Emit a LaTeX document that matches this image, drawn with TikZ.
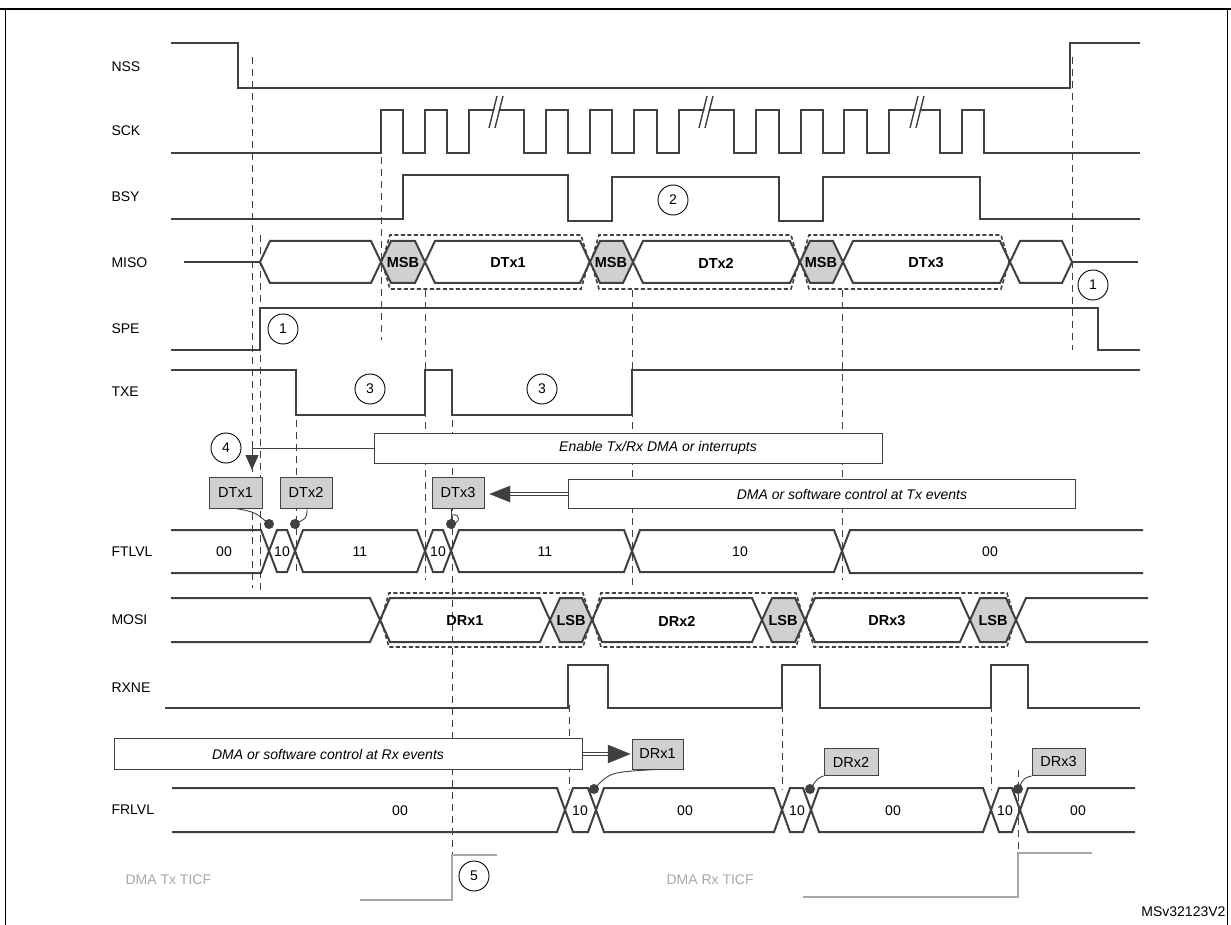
\documentclass[tikz,border=0pt]{standalone}
\usepackage{fontspec}
\setmainfont{Liberation Sans}
\usetikzlibrary{arrows.meta}
\definecolor{sigc}{HTML}{404040}
\definecolor{gfill}{HTML}{D0D0D0}
\definecolor{ticf}{HTML}{A8A8A8}
\newcommand\hexseg[6][]{\draw[sig,#1] (#2,#4) -- ({#2+#6},{#4-#5}) -- ({#3-#6},{#4-#5}) -- (#3,#4) -- ({#3-#6},{#4+#5}) -- ({#2+#6},{#4+#5}) -- cycle;}
\newcommand\grp[3]{\draw[line width=1.6pt,sigc,dash pattern=on 4pt off 2.5pt] ({#1+1},{#3}) -- ({#1+9},{#3-27}) -- ({#2-9},{#3-27}) -- ({#2-1},{#3}) -- ({#2-9},{#3+27}) -- ({#1+9},{#3+27}) -- cycle;}
\newcommand\brk[1]{\draw[white,line width=4pt] ({#1-2},{128}) -- ({#1+6},{96});
 \draw[sigc,line width=1.4pt] ({#1-5},{128}) -- ({#1+3},{96}); \draw[sigc,line width=1.4pt] ({#1+1},{128}) -- ({#1+9},{96});}
\begin{document}
\begin{tikzpicture}[x=1pt,y=-1pt,
  sig/.style={line width=2pt,sigc,line join=miter},
  vd/.style={line width=0.9pt,sigc,dash pattern=on 7pt off 5pt},
  lab/.style={font=\fontsize{14}{16}\selectfont,anchor=west,text=black},
  bt/.style={font=\bfseries\fontsize{14.5}{16}\selectfont,text=black},
  vt/.style={font=\fontsize{14}{16}\selectfont,text=black},
  num/.style={circle,draw=black,line width=0.9pt,minimum size=30pt,inner sep=0pt,font=\fontsize{14}{16}\selectfont},
  box/.style={draw=sigc,line width=1pt,fill=white,font=\itshape\fontsize{14}{16}\selectfont,inner sep=0pt},
  gbox/.style={draw=sigc,line width=1pt,fill=gfill,font=\fontsize{14.5}{16}\selectfont,inner sep=0pt}]
\useasboundingbox (0,0) rectangle (1231,925);
% frame
\draw[line width=2pt,black] (0,9) -- (1231,9);
\draw[line width=1pt,black] (5,9) -- (5,925);
\draw[line width=1pt,black] (1227,9) -- (1227,925);
% labels
\node[lab] (lNSS) at (108,67) {NSS};
\node[lab] (lSCK) at (108,131) {SCK};
\node[lab] (lBSY) at (108,197) {BSY};
\node[lab] (lMISO) at (108,263) {MISO};
\node[lab] (lSPE) at (108,329) {SPE};
\node[lab] (lTXE) at (108,392) {TXE};
\node[lab] (lFT) at (108,552) {FTLVL};
\node[lab] (lMOSI) at (108,620) {MOSI};
\node[lab] (lRX) at (108,688) {RXNE};
\node[lab] (lFR) at (108,810) {FRLVL};
\node[lab,text=ticf] (lTT) at (122,880) {DMA Tx TICF};
\node[lab,text=ticf] (lRT) at (663,880) {DMA Rx TICF};
\node[font=\fontsize{14}{16}\selectfont,anchor=east] (ms) at (1229,912) {MSv32123V2};
% dashed verticals
\draw[vd] (252,57) -- (252,588);
\draw[vd] (260,235) -- (260,590);
\draw[vd] (381,157) -- (381,340);
\draw[vd] (296,420) -- (296,575);
\draw[vd] (425,290) -- (425,580);
\draw[vd] (452,420) -- (452,880);
\draw[vd] (632,290) -- (632,585);
\draw[vd] (842,290) -- (842,580);
\draw[vd] (1072,57) -- (1072,350);
\draw[vd] (569,705) -- (569,790);
\draw[vd] (782,705) -- (782,790);
\draw[vd] (991,705) -- (991,790);
\draw[vd] (1018,770) -- (1018,897);
% NSS
\draw[sig] (171,43) -- (238,43) -- (238,88) -- (1070,88) -- (1070,43) -- (1140,43);
% SCK
\draw[sig] (171,153) -- (381,153)
 -- (381,110) -- (403,110) -- (403,153) -- (425,153) -- (425,110) -- (447,110) -- (447,153) -- (469,153) -- (469,110) -- (524,110) -- (524,153) -- (546,153) -- (546,110) -- (568,110) -- (568,153)
 -- (590,153) -- (590,110) -- (612,110) -- (612,153) -- (634,153) -- (634,110) -- (657,110) -- (657,153) -- (679,153) -- (679,110) -- (734,110) -- (734,153) -- (756,153) -- (756,110) -- (779,110) -- (779,153)
 -- (801,153) -- (801,110) -- (823,110) -- (823,153) -- (844,153) -- (844,110) -- (867,110) -- (867,153) -- (889,153) -- (889,110) -- (940,110) -- (940,153) -- (962,153) -- (962,110) -- (984,110) -- (984,153) -- (1140,153);
\brk{494}\brk{704}\brk{915}
% BSY
\draw[sig] (171,219) -- (403,219) -- (403,175) -- (568,175) -- (568,221) -- (612,221) -- (612,177) -- (779,177) -- (779,221) -- (823,221) -- (823,177) -- (980,177) -- (980,219) -- (1140,219);
\node[num] (c2) at (673,200) {2};
% MISO
\draw[sig] (184,262) -- (260,262);
\hexseg{260}{381}{262}{21}{10}
\grp{381}{590}{262}\grp{590}{800}{262}\grp{800}{1010}{262}
\hexseg[fill=gfill]{381}{425}{262}{21}{10}
\hexseg{425}{590}{262}{21}{10}
\hexseg[fill=gfill]{590}{633}{262}{21}{10}
\hexseg{633}{800}{262}{21}{10}
\hexseg[fill=gfill]{800}{843}{262}{21}{10}
\hexseg{843}{1010}{262}{21}{10}
\hexseg{1010}{1072}{262}{21}{10}
\draw[sig] (1072,262) -- (1138,262);
\node[bt] (m1) at (403,263) {MSB};
\node[bt] (m2) at (611,263) {MSB};
\node[bt] (m3) at (821,263) {MSB};
\node[bt] (d1) at (508,263) {DTx1};
\node[bt] (d2) at (716,263) {DTx2};
\node[bt] (d3) at (926,263) {DTx3};
\node[num] (c1b) at (1093,285) {1};
% SPE
\draw[sig] (171,350) -- (260,350) -- (260,308) -- (1098,308) -- (1098,350) -- (1140,350);
\node[num] (c1a) at (283,329) {1};
% TXE
\draw[sig] (171,370) -- (296,370) -- (296,415) -- (425,415) -- (425,370) -- (452,370) -- (452,415) -- (632,415) -- (632,370) -- (1140,370);
\node[num] (c3a) at (370,389) {3};
\node[num] (c3b) at (542,389) {3};
% enable row
\node[num] (c4) at (226,448) {4};
\node[box,minimum width=508pt,minimum height=30pt] (en) at (628,448) {\hspace*{60pt}Enable Tx/Rx DMA or interrupts};
\coordinate (t4) at (252,448);
\draw[line width=1pt,sigc] (en.west) -- (t4);
\draw[line width=1pt,sigc] (252,442) -- (252,456);
\coordinate (a4) at (252,470);
\draw[line width=1pt,sigc,-{Triangle[length=15pt,width=13pt]}] (252,452) -- (a4);
\node[gbox,minimum width=53pt,minimum height=31pt] (b1) at (235.5,492.5) {DTx1};
\node[gbox,minimum width=52pt,minimum height=31pt] (b2) at (306,492.5) {DTx2};
\node[gbox,minimum width=52pt,minimum height=31pt] (b3) at (458,492.5) {DTx3};
\node[box,minimum width=507pt,minimum height=29pt] (tx) at (822,494) {\hspace*{60pt}DMA or software control at Tx events};
\draw[line width=1pt,sigc,double=white,double distance=1.5pt] (tx.west) -- (510,494);
\draw[fill=sigc,draw=sigc] (510,486) -- (490,494) -- (510,502) -- cycle;
% FTLVL
\draw[sig] (171,530) -- (261,530) -- (269,551) -- (261,573) -- (171,573);
\hexseg{269}{295}{551}{21}{8}
\hexseg{295}{425}{551}{21}{8}
\hexseg{425}{451}{551}{21}{8}
\hexseg{451}{632}{551}{21}{8}
\hexseg{632}{842}{551}{21}{8}
\draw[sig] (1143,530) -- (850,530) -- (842,551) -- (850,573) -- (1143,573);
\node[vt] (f1) at (224,552) {00};
\node[vt] (f2) at (282,552) {10};
\node[vt] (f3) at (360,552) {11};
\node[vt] (f4) at (438,552) {10};
\node[vt] (f5) at (545,552) {11};
\node[vt] (f6) at (740,552) {10};
\node[vt] (f7) at (990,552) {00};
\fill[sigc] (269,524) circle (5pt) coordinate (p1);
\fill[sigc] (295,524) circle (5pt) coordinate (p2);
\fill[sigc] (451,524) circle (5pt) coordinate (p3);
\draw[line width=0.9pt,sigc] (b1.south) .. controls (255,512) .. (p1);
\draw[line width=0.9pt,sigc] (307,508) .. controls (307,518) .. (p2);
\draw[line width=0.9pt,sigc] (451,508) -- (451,524);
\draw[line width=0.9pt,sigc] (451,515) .. controls (462,513) and (460,524) .. (p3);
% MOSI
\draw[sig] (171,598) -- (370,598) -- (380,620) -- (370,642) -- (171,642);
\grp{380}{592}{620}\grp{592}{805}{620}\grp{805}{1016}{620}
\hexseg{380}{550}{620}{22}{10}
\hexseg[fill=gfill]{550}{592}{620}{22}{10}
\hexseg{592}{762}{620}{22}{10}
\hexseg[fill=gfill]{762}{805}{620}{22}{10}
\hexseg{805}{970}{620}{22}{10}
\hexseg[fill=gfill]{970}{1016}{620}{22}{10}
\draw[sig] (1148,598) -- (1026,598) -- (1016,620) -- (1026,642) -- (1148,642);
\node[bt] (r1) at (465,621) {DRx1};
\node[bt] (r2) at (677,621) {DRx2};
\node[bt] (r3) at (887,621) {DRx3};
\node[bt] (l1) at (571,621) {LSB};
\node[bt] (l2) at (783,621) {LSB};
\node[bt] (l3) at (993,621) {LSB};
% RXNE
\draw[sig] (165,708) -- (568,708) -- (568,665) -- (608,665) -- (608,708) -- (782,708) -- (782,665) -- (820,665) -- (820,708) -- (991,708) -- (991,665) -- (1028,665) -- (1028,708) -- (1140,708);
% Rx row
\node[box,minimum width=468pt,minimum height=31pt] (rx) at (348,754) {\hspace*{-40pt}DMA or software control at Rx events};
\node[gbox,minimum width=51pt,minimum height=30pt] (e1) at (657.5,754) {DRx1};
\node[gbox,minimum width=54pt,minimum height=27pt] (e2) at (851,762) {DRx2};
\node[gbox,minimum width=53pt,minimum height=27pt] (e3) at (1058.5,762) {DRx3};
\draw[line width=1pt,sigc,double=white,double distance=1.5pt] (rx.east) -- (610,754);
\draw[fill=sigc,draw=sigc] (608,745) -- (630,754) -- (608,763) -- cycle;
% FRLVL
\draw[sig] (172,788) -- (557,788) -- (565,810) -- (557,832) -- (172,832);
\hexseg{565}{596}{810}{22}{8}
\hexseg{596}{782}{810}{22}{8}
\hexseg{782}{811}{810}{22}{8}
\hexseg{811}{991}{810}{22}{8}
\hexseg{991}{1020}{810}{22}{8}
\draw[sig] (1135,788) -- (1028,788) -- (1020,810) -- (1028,832) -- (1135,832);
\node[vt] (g1) at (400,811) {00};
\node[vt] (g2) at (580,811) {10};
\node[vt] (g3) at (685,811) {00};
\node[vt] (g4) at (797,811) {10};
\node[vt] (g5) at (893,811) {00};
\node[vt] (g6) at (1005,811) {10};
\node[vt] (g7) at (1078,811) {00};
\fill[sigc] (594,789) circle (5pt) coordinate (q1);
\fill[sigc] (810,789) circle (5pt) coordinate (q2);
\fill[sigc] (1018,789) circle (5pt) coordinate (q3);
\draw[line width=0.9pt,sigc] (e1.south) .. controls (610,772) .. (q1);
\draw[line width=0.9pt,sigc] (e2.south west) .. controls (818,778) .. (q2);
\draw[line width=0.9pt,sigc] (e3.south west) .. controls (1024,778) .. (q3);
% DMA TICF
\draw[line width=2pt,ticf] (360,900) -- (452,900) -- (452,855) -- (497,855);
\node[num] (c5) at (474,876) {5};
\draw[line width=2pt,ticf] (803,897) -- (1018,897) -- (1018,853) -- (1092,853);
\end{tikzpicture}
\end{document}
